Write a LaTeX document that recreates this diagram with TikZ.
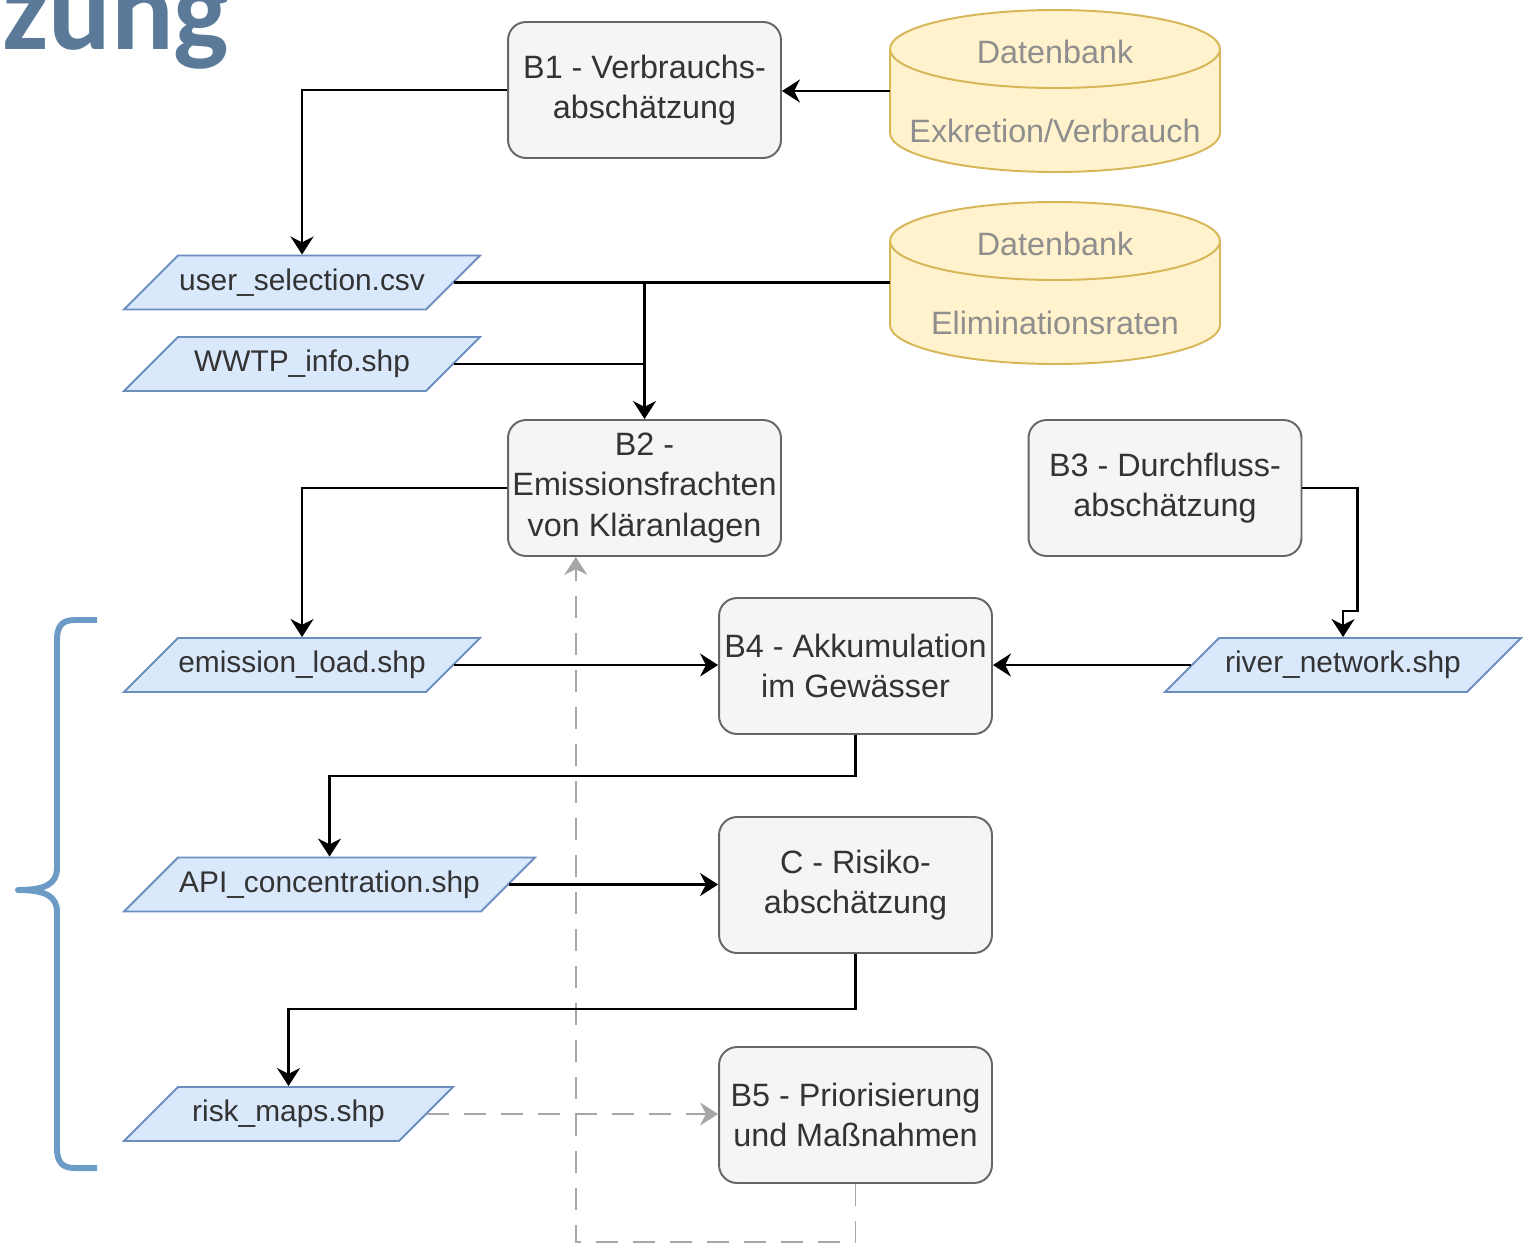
\documentclass[tikz,border=0pt]{standalone}
\usepackage{fontspec}
\setmainfont{Liberation Sans}
\newfontfamily\titlefont{Carlito}
\usetikzlibrary{arrows.meta,shapes.geometric,calc}
\definecolor{wfTitle}{HTML}{5B7A99}
\definecolor{wfBrace}{HTML}{6C9BC6}
\definecolor{wfBoxFill}{HTML}{F5F5F5}
\definecolor{wfBoxLine}{HTML}{666666}
\definecolor{wfDataFill}{HTML}{DAE8FC}
\definecolor{wfDataLine}{HTML}{6C8EBF}
\definecolor{wfDbFill}{HTML}{FFF2CC}
\definecolor{wfDbLine}{HTML}{D6B656}
\definecolor{wfText}{HTML}{333333}
\definecolor{wfDbText}{HTML}{8E8E8E}
\definecolor{wfDash}{HTML}{A6A6A6}
\tikzset{
  wf box/.style={rectangle, rounded corners=0.36cm, draw=wfBoxLine, fill=wfBoxFill, line width=1.1pt,
    minimum width=5.46cm, minimum height=2.72cm, inner sep=0pt, align=center, text=wfText,
    font=\fontsize{18.4}{22.8}\selectfont},
  wf data/.style={trapezium, trapezium left angle=45, trapezium right angle=135, trapezium stretches body=true,
    draw=wfDataLine, fill=wfDataFill, line width=1.1pt, minimum height=1.08cm, inner xsep=0pt,
    inner ysep=7.35pt, text height=12.5pt, text depth=3.5pt,
    text=wfText, font=\fontsize{17}{20}\selectfont},
  wf db/.style={rectangle, minimum width=6.6cm, minimum height=3.24cm, inner sep=0pt, align=center,
    text=wfDbText, font=\fontsize{18.4}{22.5}\selectfont},
  wf db shape/.style={draw=wfDbLine, fill=wfDbFill, line width=1.1pt},
  wf link/.style={draw=black, line width=1.4pt},
  wf conn/.style={wf link, -{Stealth[length=0.36cm,width=0.46cm]}},
  wf dashed/.style={draw=wfDash, line width=1.1pt, dash pattern=on 0.44cm off 0.3cm,
    -{Stealth[length=0.36cm,width=0.46cm]}},
  wf brace/.style={draw=wfBrace, line width=3.4pt, line join=round},
}

\begin{document}
\begin{tikzpicture}[x=0.02cm,y=0.02cm]
  \useasboundingbox (0,0) rectangle (1531,-1248);
  \clip (0,0) rectangle (1531,-1248);

  % heading, cut at the top
  \node[anchor=base west, inner sep=0pt, text=wfTitle, font=\titlefont\bfseries\fontsize{66.5}{66.5}\selectfont] (title) at (2,-49) {zung};

  % databases
  \foreach \cy in {-91,-283} {
    \draw[wf db shape] (890,\cy+42) -- (890,\cy-42) arc[start angle=180,end angle=360,x radius=165,y radius=39]
      -- (1220,\cy+42) arc[start angle=0,end angle=180,x radius=165,y radius=39] -- cycle;
    \draw[wf db shape, fill=none] (890,\cy+42) arc[start angle=180,end angle=360,x radius=165,y radius=39];
  }
  \node[wf db] (dbVerbrauch) at (1055,-91) {Datenbank\\[22.5pt]Exkretion/Verbrauch};
  \node[wf db] (dbElim) at (1055,-283) {Datenbank\\[22.5pt]Eliminationsraten};

  % process steps
  \node[wf box] (b1) at (644.5,-90) {B1 - Verbrauchs-\\abschätzung};
  \node[wf box] (b2) at (644.5,-488) {B2 -\\Emissionsfrachten\\von Kläranlagen};
  \node[wf box] (b3) at (1165,-488) {B3 - Durchfluss-\\abschätzung};
  \node[wf box] (b4) at (855.5,-666) {B4 - Akkumulation\\im Gewässer};
  \node[wf box] (c) at (855.5,-885) {C - Risiko-\\abschätzung};
  \node[wf box] (b5) at (855.5,-1115) {B5 - Priorisierung\\und Maßnahmen};

  % data files
  \node[wf data, minimum width=7.12cm] (userSel) at (302,-282.5) {user\_selection.csv};
  \node[wf data, minimum width=7.12cm] (wwtpInfo) at (302,-364) {WWTP\_info.shp};
  \node[wf data, minimum width=7.12cm] (emisLoad) at (302,-665) {emission\_load.shp};
  \node[wf data, minimum width=7.12cm] (riverNet) at (1343,-665) {river\_network.shp};
  \node[wf data, minimum width=8.22cm] (apiConc) at (329.5,-884.5) {API\_concentration.shp};
  \node[wf data, minimum width=6.58cm] (riskMaps) at (288.5,-1114) {risk\_maps.shp};

  % feedback (dashed)
  \draw[wf dashed] (riskMaps.east) -- (riskMaps.east -| b5.west);
  \draw[wf dashed] (b5.south) -- ++(0,-58) -| ($(b2.south west)!0.25!(b2.south east)$);

  % flow
  \draw[wf conn] (dbVerbrauch.west) -- (dbVerbrauch.west -| b1.east);
  \draw[wf conn] (b1.west) -| (userSel.north);
  \draw[wf link] (userSel.east) -- (dbElim.west |- userSel.east);
  \draw[wf link] (wwtpInfo.east) -- (wwtpInfo.east -| b2.north);
  \draw[wf conn] (userSel.east -| b2.north) -- (b2.north);
  \draw[wf conn] (b2.west) -| (emisLoad.north);
  \draw[wf conn] (b3.east) -- ++(55,0) |- ($(riverNet.north)+(0,26)$) -- (riverNet.north);
  \draw[wf conn] (riverNet.west) -- (riverNet.west -| b4.east);
  \draw[wf conn] (emisLoad.east) -- (emisLoad.east -| b4.west);
  \draw[wf conn] (b4.south) -- ++(0,-41) -| (apiConc.north);
  \draw[wf conn] (apiConc.east) -- (apiConc.east -| c.west);
  \draw[wf conn] (c.south) -- ++(0,-55) -| (riskMaps.north);

  % brace
  \draw[wf brace] (97,-620) -- (75,-620) .. controls (62,-620) and (57,-626) .. (57,-640) -- (57,-868)
    .. controls (57,-884) and (45,-890) .. (18,-890) .. controls (45,-890) and (57,-896) .. (57,-912)
    -- (57,-1148) .. controls (57,-1162) and (62,-1168) .. (75,-1168) -- (97,-1168);
\end{tikzpicture}
\end{document}
